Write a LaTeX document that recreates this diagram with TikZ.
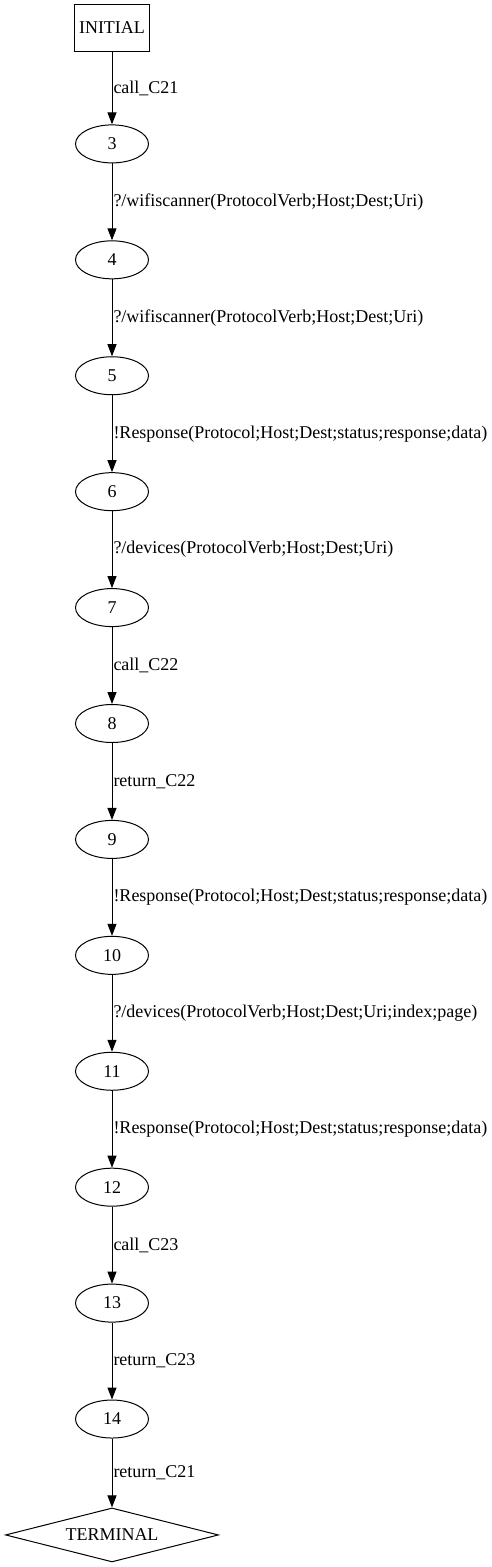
\documentclass[tikz,border=0pt]{standalone}
\usepackage{fontspec}
\setmainfont{Liberation Serif}
\usetikzlibrary{positioning}
\usetikzlibrary{arrows.meta, shapes.geometric}
\begin{document}
\begin{tikzpicture}[x=1pt, y=1pt, font=\fontsize{18}{21}\selectfont,
  state/.style = {draw, ellipse, minimum width=73pt, minimum height=38pt, inner sep=0pt},
  start/.style = {draw, rectangle, minimum width=75pt, minimum height=47pt, inner sep=0pt},
  stop/.style = {draw, diamond, aspect=3.9, minimum width=213pt, minimum height=54pt, inner sep=0pt},
  lbl/.style = {right, inner sep=1pt},
  every path/.style = {line width=1pt},
  >={Triangle[length=12pt, width=9pt]},
  node distance=115.92pt]
\useasboundingbox (0,0) rectangle (492,1567);
\node[start] (I) at (112,1539) {INITIAL};
\node[state] (3) [below of=I] {3};
\node[state] (4) [below of=3] {4};
\node[state] (5) [below of=4] {5};
\node[state] (6) [below of=5] {6};
\node[state] (7) [below of=6] {7};
\node[state] (8) [below of=7] {8};
\node[state] (9) [below of=8] {9};
\node[state] (10) [below of=9] {10};
\node[state] (11) [below of=10] {11};
\node[state] (12) [below of=11] {12};
\node[state] (13) [below of=12] {13};
\node[state] (14) [below of=13] {14};
\node[stop] (T) [below of=14] {TERMINAL};
\path (I) edge [->] node [lbl] {call\_C21} (3);
\path (3) edge [->] node [lbl] {?/wifiscanner(ProtocolVerb;Host;Dest;Uri)} (4);
\path (4) edge [->] node [lbl] {?/wifiscanner(ProtocolVerb;Host;Dest;Uri)} (5);
\path (5) edge [->] node [lbl] {!Response(Protocol;Host;Dest;status;response;data)} (6);
\path (6) edge [->] node [lbl] {?/devices(ProtocolVerb;Host;Dest;Uri)} (7);
\path (7) edge [->] node [lbl] {call\_C22} (8);
\path (8) edge [->] node [lbl] {return\_C22} (9);
\path (9) edge [->] node [lbl] {!Response(Protocol;Host;Dest;status;response;data)} (10);
\path (10) edge [->] node [lbl] {?/devices(ProtocolVerb;Host;Dest;Uri;index;page)} (11);
\path (11) edge [->] node [lbl] {!Response(Protocol;Host;Dest;status;response;data)} (12);
\path (12) edge [->] node [lbl] {call\_C23} (13);
\path (13) edge [->] node [lbl] {return\_C23} (14);
\path (14) edge [->] node [lbl] {return\_C21} (T);
\end{tikzpicture}
\end{document}
